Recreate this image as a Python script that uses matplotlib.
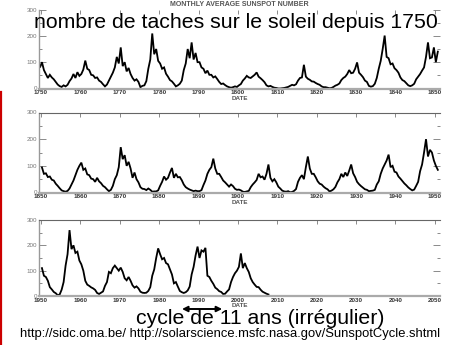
import numpy as np
import matplotlib
matplotlib.use("Agg")
import matplotlib.pyplot as plt
from matplotlib.lines import Line2D

plt.rcParams['font.family'] = ['Liberation Sans', 'DejaVu Sans']

# Half-yearly sunspot numbers (two values per year), one list per century panel
start_1 = 1749
ssn_1 = [95, 80, 100, 70, 55, 40, 52, 42, 35, 25, 15, 9, 6, 12, 8, 14, 28, 38, 55, 40,
         62, 48, 55, 72, 106, 75, 70, 52, 50, 40, 42, 30, 25, 16, 8, 15, 30, 45, 60, 80,
         120, 95, 156, 85, 100, 65, 78, 55, 40, 30, 35, 25, 5, 10, 12, 28, 75, 110, 209, 130,
         150, 105, 95, 75, 80, 56, 45, 32, 27, 18, 8, 12, 18, 30, 70, 95, 150, 115, 175, 110,
         135, 100, 100, 80, 75, 58, 68, 52, 52, 42, 46, 36, 25, 17, 19, 13, 8, 5, 3, 5,
         8, 6, 12, 17, 30, 38, 48, 42, 40, 46, 52, 61, 45, 39, 32, 24, 12, 8, 10, 6,
         3, 2, 0, 0, 1, 2, 4, 6, 10, 14, 12, 16, 30, 40, 42, 90, 45, 37, 33, 27,
         26, 21, 17, 14, 8, 5, 5, 3, 1, 2, 6, 11, 14, 19, 32, 40, 45, 55, 70, 58,
         60, 75, 99, 60, 52, 43, 30, 25, 10, 7, 9, 18, 40, 75, 105, 150, 201, 120, 115, 92,
         95, 77, 70, 60, 42, 32, 28, 20, 12, 9, 12, 18, 35, 45, 55, 68, 80, 120, 175, 115,
         118, 156, 100, 140]

start_2 = 1850
ssn_2 = [94, 70, 72, 58, 60, 48, 45, 33, 25, 16, 8, 5, 3, 6, 15, 30, 45, 65, 85, 100,
         112, 85, 90, 68, 65, 52, 50, 40, 55, 42, 35, 25, 20, 12, 5, 10, 25, 50, 65, 95,
         170, 125, 140, 100, 115, 90, 55, 75, 50, 38, 20, 14, 13, 9, 15, 10, 3, 4, 4, 8,
         25, 40, 60, 48, 55, 75, 92, 55, 70, 57, 58, 46, 30, 20, 15, 11, 8, 5, 7, 5,
         5, 9, 28, 45, 70, 85, 95, 127, 90, 70, 70, 58, 45, 38, 30, 22, 30, 24, 14, 10,
         11, 8, 3, 2, 4, 6, 20, 30, 38, 47, 70, 57, 60, 48, 70, 105, 55, 42, 50, 38,
         22, 15, 7, 4, 3, 5, 1, 2, 6, 13, 40, 55, 65, 50, 95, 135, 90, 70, 70, 57,
         42, 33, 30, 22, 16, 12, 4, 7, 12, 21, 38, 50, 70, 58, 75, 62, 82, 105, 72, 58,
         40, 31, 24, 18, 12, 10, 5, 6, 7, 10, 30, 42, 70, 90, 105, 120, 142, 95, 100, 78,
         75, 60, 52, 43, 34, 27, 19, 13, 8, 11, 25, 40, 80, 105, 150, 200, 135, 160, 150, 120,
         100, 85]

start_3 = 1950
ssn_3 = [110, 80, 75, 60, 35, 26, 16, 11, 3, 6, 25, 55, 120, 165, 260, 185, 200, 170, 175, 140,
         125, 100, 60, 45, 40, 34, 30, 24, 12, 8, 13, 18, 40, 55, 95, 90, 110, 120, 110, 100,
         112, 95, 70, 62, 75, 60, 42, 33, 38, 30, 17, 13, 12, 13, 20, 35, 80, 105, 150, 188,
         165, 145, 150, 130, 125, 105, 85, 50, 55, 37, 20, 15, 12, 15, 22, 37, 85, 115, 160, 195,
         150, 180, 175, 190, 80, 75, 60, 48, 33, 27, 19, 16, 8, 9, 18, 26, 55, 75, 90, 100,
         115, 168, 110, 130, 110, 95, 70, 55, 45, 36, 35, 25, 17, 13, 9, 6]

series = [(start_1, ssn_1, 1750), (start_2, ssn_2, 1850), (start_3, ssn_3, 1950)]

y_ticks = [0, 100, 200, 300]
y_minor = [50, 150, 250]
y_labels = ['0', '100', '200', '300']

W, H = 459, 345
# (pixel row of value 300, pixel row of value 0) for each panel
rows = [(9.5, 88.5), (112.5, 192.5), (220, 296)]

fig = plt.figure(figsize=(W / 100, H / 100), dpi=100)
axes = []
for (start, vals, dec0), (ytop, ybot) in zip(series, rows):
    ax = fig.add_axes([39 / W, 1 - ybot / H, 401 / W, (ybot - ytop) / H])
    vals = np.asarray(vals, dtype=float)
    t = start + 0.25 + 0.5 * np.arange(len(vals))
    ax.plot(t, vals, color='black', lw=1.3, solid_joinstyle='miter')
    ax.set_xlim(dec0 - 0.5, dec0 + 101.3)
    ax.set_ylim(0, 300)

    decades = list(range(dec0, dec0 + 101, 10))
    ax.set_xticks(decades)
    ax.set_xticklabels([str(d) for d in decades])
    ax.tick_params(axis='x', which='major', top=True, bottom=False, direction='in',
                   length=3, width=0.6, color='#777777', labelsize=4.5, pad=1.2,
                   labelcolor='#333333')
    for lab in ax.get_xticklabels():
        lab.set_fontweight('bold')

    ax.set_yticks(y_ticks)
    ax.set_yticklabels(y_labels)
    ax.set_yticks(y_minor, minor=True)
    ax.tick_params(axis='y', which='major', left=True, right=True, direction='in',
                   length=5, width=0.6, color='#777777', labelsize=4.5, pad=1.5,
                   labelcolor='#777777')
    ax.tick_params(axis='y', which='minor', left=True, right=True, direction='in',
                   length=2.5, width=0.6, color='#777777')

    ax.spines['right'].set_visible(False)
    ax.spines['left'].set_color('#999999')
    ax.spines['left'].set_linewidth(1.0)
    ax.spines['bottom'].set_color('#aaaaaa')
    ax.spines['bottom'].set_linewidth(1.6)
    ax.spines['top'].set_color('#666666')
    ax.spines['top'].set_linewidth(0.8)
    ax.set_xlabel('DATE', fontsize=4.5, fontweight='bold', color='#555555', labelpad=0.5)
    ax.patch.set_alpha(0)
    axes.append(ax)

axes[0].spines['top'].set_visible(False)

fig.text(239 / W, 1 - 4 / H, 'MONTHLY AVERAGE SUNSPOT NUMBER', ha='center', va='center',
         fontsize=5, fontweight='bold', color='#555555')

fig.text(236 / W, 1 - 28 / H, 'nombre de taches sur le soleil depuis 1750',
         ha='center', va='baseline', fontsize=15.3, color='black')
fig.text(260 / W, 1 - 324 / H, 'cycle de 11 ans (irrégulier)',
         ha='center', va='baseline', fontsize=15.3, color='black')
fig.text(230.5 / W, 1 - 337 / H,
         'http://sidc.oma.be/ http://solarscience.msfc.nasa.gov/SunspotCycle.shtml',
         ha='center', va='baseline', fontsize=9.4, color='black')

# double arrow spanning one cycle (late 1980s to mid 1990s)
axes[2].annotate('', xy=(1996.0, 1 - 309 / H), xytext=(1985.8, 1 - 309 / H),
                 xycoords=('data', 'figure fraction'),
                 textcoords=('data', 'figure fraction'),
                 arrowprops=dict(arrowstyle='<|-|>', color='black', lw=1.4,
                                 mutation_scale=8, shrinkA=0, shrinkB=0),
                 annotation_clip=False)

# red rule along the left edge
fig.add_artist(Line2D([1.2 / W, 1.2 / W], [1 - 92 / H, 0], color='#cc0000', lw=1.6))

fig.savefig('out.png', dpi=100)
